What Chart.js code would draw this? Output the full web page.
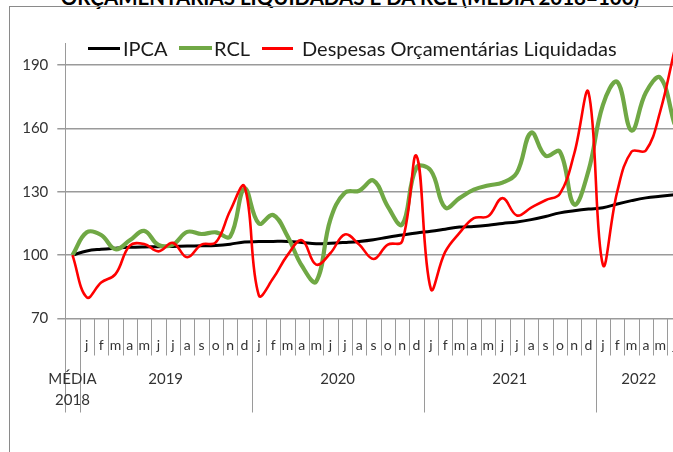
<!DOCTYPE html>
<html>
<head>
<meta charset="utf-8">
<script src="https://cdn.jsdelivr.net/npm/chart.js@4/dist/chart.umd.min.js"></script>
<style>
html,body{margin:0;padding:0;background:#fff;overflow:hidden;width:673px;height:452px;position:relative;}
#frame{position:absolute;left:9px;top:6px;width:800px;height:600px;border-left:1px solid #8a8a8a;border-top:1px solid #8a8a8a;}
#title{position:absolute;left:0;top:-13px;width:700px;text-align:center;font:bold 20.5px Lato, sans-serif;line-height:20px;white-space:nowrap;color:#000;}
#c{position:absolute;left:0;top:0;}
.lg-line{position:absolute;}
.lg-text{position:absolute;font:20px Lato, sans-serif;color:#1a1a1a;white-space:nowrap;line-height:24px;top:36px;}
</style>
</head>
<body>
<div id="title">ORÇAMENTÁRIAS LIQUIDADAS E DA RCL (MÉDIA 2018=100)</div>
<div id="frame"></div>
<canvas id="c" width="700" height="452"></canvas>
<div id="legend"></div>
<script>
// ---- data ----
const categories = ['',
  'j','f','m','a','m','j','j','a','s','o','n','d',
  'j','f','m','a','m','j','j','a','s','o','n','d',
  'j','f','m','a','m','j','j','a','s','o','n','d',
  'j','f','m','a','m','j'];
const groupLabels = [['MÉDIA','2018'], ['2019'], ['2020'], ['2021'], ['2022']];
const groupSizes = [1, 12, 12, 12, 6];
const yTicks = [70, 100, 130, 160, 190];
const seriesNames = ['IPCA', 'RCL', 'Despesas Orçamentárias Liquidadas'];

const ipca = [100,
  102.0,102.8,103.3,103.7,103.9,104.0,104.1,104.3,104.4,104.6,105.2,106.2,
  106.4,106.5,106.5,106.0,105.4,105.6,106.0,106.5,107.3,108.5,109.5,110.5,
  111.3,112.3,113.3,113.6,114.2,115.0,115.7,116.8,118.3,120.0,121.0,121.8,
  122.4,124.2,125.8,127.1,127.9,128.6];
const rcl = [100,
  110.8,109.5,102.8,107.0,111.5,104.8,105.0,111.0,110.0,110.8,108.8,131.5,
  115.0,119.0,109.0,95.0,87.5,117.0,129.5,130.5,135.3,123.0,114.5,141.5,
  140.0,122.5,127.0,131.0,133.0,134.3,139.0,158.0,147.0,149.0,124.0,140.0,
  171.0,182.0,159.0,177.0,184.0,162.0];
const despesas = [100,
  80.0,87.0,91.0,104.5,105.3,101.8,105.8,99.0,105.0,106.0,121.0,132.5,
  81.0,89.0,100.0,107.0,95.5,101.0,109.8,105.0,98.2,105.0,106.5,147.0,
  84.0,101.5,110.5,117.5,118.4,127.0,118.8,122.5,126.0,129.0,148.0,177.0,
  95.5,130.0,149.0,149.5,168.0,197.0];

// ---- style ----
const colors = ['#000000', '#70a845', '#ff0000'];
const widths = [3, 4.2, 2.6];

// legend (HTML text)
const lgLineX = [88, 179, 262], lgLineW = [32, 33, 31], lgTextX = [123, 214, 302];
const legend = document.getElementById('legend');
seriesNames.forEach((name, i) => {
  const l = document.createElement('div');
  l.className = 'lg-line';
  l.style.left = lgLineX[i] + 'px';
  l.style.width = lgLineW[i] + 'px';
  l.style.height = Math.round(widths[i]) + 'px';
  l.style.top = (48 - widths[i] / 2) + 'px';
  l.style.background = colors[i];
  legend.appendChild(l);
  const t = document.createElement('div');
  t.className = 'lg-text';
  t.style.left = lgTextX[i] + 'px';
  t.textContent = name;
  legend.appendChild(t);
});

const xAxisPlugin = {
  id: 'xAxisLabels',
  afterDraw(chart) {
    const {ctx, chartArea} = chart;
    const x = chart.scales.x;
    const n = categories.length;
    const band = x.getPixelForValue(1) - x.getPixelForValue(0);
    const edge = i => x.getPixelForValue(i) - band / 2;
    const top = chartArea.bottom;
    const groupEdges = new Set([0]);
    let acc = 0;
    groupSizes.forEach(s => { acc += s; groupEdges.add(acc); });
    ctx.save();
    ctx.strokeStyle = '#9a9a9a';
    ctx.lineWidth = 1;
    for (let i = 0; i <= n; i++) {
      const px = Math.round(edge(i)) + 0.5;
      const len = groupEdges.has(i) ? 94 : 37;
      ctx.beginPath();
      ctx.moveTo(px, top);
      ctx.lineTo(px, top + len);
      ctx.stroke();
    }
    ctx.fillStyle = '#333';
    ctx.textAlign = 'center';
    ctx.textBaseline = 'middle';
    ctx.font = '14px Lato';
    categories.forEach((m, i) => { if (m) ctx.fillText(m, x.getPixelForValue(i), top + 27); });
    ctx.font = '15px Lato';
    let start = 0;
    groupSizes.forEach((s, gi) => {
      const cx = (edge(start) + edge(start + s)) / 2;
      groupLabels[gi].forEach((t, k) => ctx.fillText(t, cx, top + 61 + k * 21));
      start += s;
    });
    ctx.restore();
  }
};

const series = [ipca, rcl, despesas];
new Chart(document.getElementById('c'), {
  type: 'line',
  data: {
    labels: categories,
    datasets: series.map((d, i) => ({
      label: seriesNames[i],
      data: d,
      borderColor: colors[i],
      backgroundColor: colors[i],
      borderWidth: widths[i],
      pointRadius: 0,
      tension: 0.4,
      fill: false,
      order: 2 - i
    }))
  },
  options: {
    responsive: false,
    devicePixelRatio: 1,
    animation: false,
    events: [],
    layout: {padding: {left: 0, right: 18.3, top: 43.9, bottom: 133.5}},
    plugins: {legend: {display: false}, title: {display: false}, tooltip: {enabled: false}},
    scales: {
      x: {display: false, offset: true},
      y: {
        min: 70, max: 200,
        afterFit(scale) { scale.width = 65.3; },
        afterBuildTicks(scale) { scale.ticks = yTicks.map(v => ({value: v})); },
        grid: {color: '#9a9a9a', lineWidth: 1.5, tickLength: 8, drawTicks: true},
        border: {color: '#9a9a9a', width: 1},
        ticks: {font: {family: 'Lato', size: 15}, color: '#333', padding: 9}
      }
    }
  },
  plugins: [xAxisPlugin]
});
</script>
</body>
</html>
